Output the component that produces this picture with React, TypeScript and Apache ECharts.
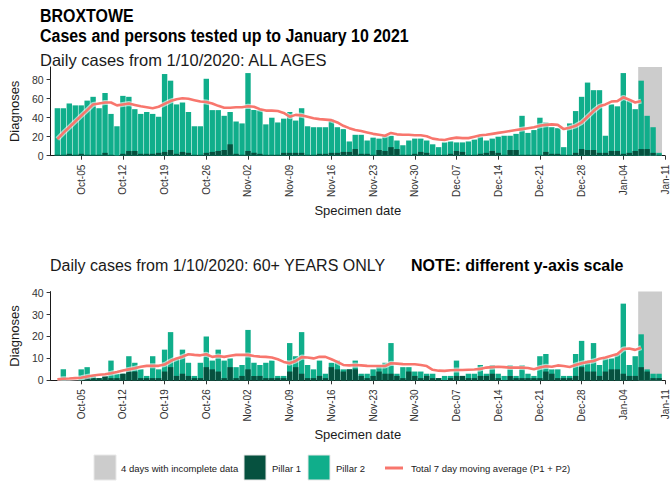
import React, { useEffect, useRef } from "react";
import * as echarts from "echarts";

// ---------- data ----------
const tickLabels = [
  "Oct-05", "Oct-12", "Oct-19", "Oct-26", "Nov-02", "Nov-09", "Nov-16", "Nov-23",
  "Nov-30", "Dec-07", "Dec-14", "Dec-21", "Dec-28", "Jan-04", "Jan-11",
];
const topYTicks = [0, 20, 40, 60, 80];
const bottomYTicks = [0, 10, 20, 30, 40];

// All ages: daily totals (Pillar 1 + Pillar 2) from 1 Oct 2020 to 10 Jan 2021
const allAgesTotal = [
  50, 50, 55, 53, 53, 58, 62, 50, 66, 44,
  31, 63, 62, 49, 44, 46, 44, 41, 86, 79,
  54, 56, 46, 31, 31, 81, 48, 48, 42, 46,
  36, 34, 87, 48, 48, 33, 40, 35, 39, 46,
  37, 50, 31, 30, 30, 30, 38, 30, 28, 15,
  22, 22, 16, 19, 18, 21, 21, 16, 11, 16,
  18, 18, 16, 12, 9, 14, 15, 14, 14, 15,
  17, 20, 16, 18, 20, 21, 21, 23, 42, 24,
  27, 40, 35, 30, 29, 9, 34, 47, 62, 77,
  69, 69, 21, 54, 52, 87, 58, 49, 79, 42,
  30, 3,
];
const allAgesPillar1 = [
  1, 1, 2, 1, 2, 1, 1, 1, 3, 1,
  0, 2, 5, 5, 2, 2, 2, 3, 4, 6,
  2, 4, 3, 1, 1, 3, 4, 5, 6, 12,
  2, 1, 5, 3, 2, 1, 1, 1, 3, 3,
  3, 3, 1, 1, 2, 2, 3, 3, 4, 4,
  7, 2, 2, 1, 6, 5, 9, 7, 1, 1,
  2, 4, 3, 1, 1, 1, 2, 5, 4, 1,
  1, 2, 3, 5, 3, 1, 6, 6, 1, 1,
  1, 1, 4, 2, 2, 1, 1, 3, 7, 6,
  6, 3, 3, 5, 5, 2, 3, 5, 7, 7,
  3, 1,
];
const allAgesAverage = [
  17.5, 24, 30, 36, 42, 48, 54, 55, 56, 56,
  53, 54, 55, 53.5, 52, 51, 50, 51.5, 54.5, 57.5,
  59.5, 60.5, 60, 58.5, 57, 56.5, 55, 52.5, 50.5, 50.5,
  51, 51, 52, 51.5, 49, 47.5, 47.5, 47, 45, 41,
  43, 42.5, 41, 39.5, 38.5, 38, 37.5, 35, 31.5, 29,
  27, 26, 24.5, 23, 22, 21, 24, 22.5, 22, 22,
  21.5, 21.5, 20.5, 18, 17, 16.5, 18, 19, 18.5, 18.5,
  20, 21.5, 22, 23, 24, 25, 26, 27, 28, 29,
  30, 31.5, 32.5, 33, 32.5, 28, 29.5, 31.5, 35, 41,
  47, 52, 54, 57, 57.5, 61.5, 59, 56, 57.5,
];

// 60+ years only
const over60Total = [
  0, 5, 0, 0, 5, 6, 2, 1, 2, 9,
  3, 3, 11, 8, 5, 2, 11, 5, 14, 22,
  10, 14, 8, 2, 8, 20, 9, 14, 9, 10,
  6, 7, 23, 8, 7, 8, 9, 2, 2, 17,
  11, 22, 7, 5, 9, 3, 8, 9, 5, 5,
  9, 3, 3, 5, 7, 8, 17, 3, 6, 6,
  4, 4, 3, 3, 1, 2, 2, 9, 2, 3,
  3, 7, 3, 7, 3, 2, 7, 2, 7, 3,
  2, 11, 12, 5, 5, 2, 2, 12, 18, 9,
  17, 7, 10, 10, 12, 35, 7, 11, 21, 5,
  3, 3,
];
const over60Pillar1 = [
  0, 0, 0, 0, 0, 1, 1, 1, 2, 1,
  1, 3, 4, 4, 1, 1, 1, 1, 4, 6,
  2, 3, 2, 1, 1, 6, 5, 4, 1, 6,
  1, 2, 5, 2, 2, 1, 1, 1, 1, 4,
  6, 3, 1, 1, 2, 1, 6, 5, 4, 5,
  5, 2, 1, 2, 4, 3, 3, 2, 1, 4,
  2, 1, 2, 1, 1, 0, 1, 2, 2, 1,
  1, 2, 2, 3, 1, 0, 2, 1, 1, 1,
  1, 1, 4, 3, 1, 1, 1, 2, 6, 4,
  4, 2, 4, 5, 5, 3, 2, 2, 6, 4,
  1, 1,
];
const over60Average = [
  0.5, 0.7, 0.8, 1, 1.2, 1.7, 2.2, 2.5, 2.8, 3.2,
  3.8, 4.5, 5, 5.5, 6.2, 6.6, 6.6, 6.6, 7.2, 8.8,
  10, 10.8, 11.9, 11.6, 11.4, 11.9, 10.7, 11.1, 10.7, 11.2,
  11.6, 11.6, 11.6, 11.1, 10.8, 10.7, 10.4, 9.6, 8.4, 7.8,
  8.8, 10.6, 10.4, 10, 10.7, 10.7, 9.6, 8.4, 7, 6.8,
  7, 6.8, 6.6, 6.5, 6.5, 6.5, 7.8, 7.6, 7.4, 7.3,
  7.3, 7, 6.5, 4.8, 4.4, 4.3, 4.6, 4.7, 4.7, 4.8,
  4.9, 5.2, 5.8, 6, 6.2, 6, 5.8, 5.8, 5.8, 5.6,
  5, 5.8, 6.4, 6.2, 6.8, 6.5, 6.1, 7, 7.8, 8.4,
  8.8, 9.8, 10.4, 11.2, 12, 14.3, 14.5, 13.9, 14.9,
];
const incompleteDays = 4;

// ---------- helpers ----------
const MONTHS: Record<string, number> = { Oct: 9, Nov: 10, Dec: 11, Jan: 0 };
const START = Date.UTC(2020, 9, 1);
function dayIndex(label: string): number {
  const [m, dd] = label.split("-");
  const y = m === "Jan" ? 2021 : 2020;
  return Math.round((Date.UTC(y, MONTHS[m], Number(dd)) - START) / 86400000);
}
const tickDays = tickLabels.map(dayIndex);
const lastDay = allAgesTotal.length - 1;

const FONT = "'Liberation Sans', Arial, Helvetica, sans-serif";
const P1 = "#06513F";
const P2 = "#10AE8B";
const RED = "#F8766D";
const GREY = "#CCCCCC";
const AXIS = "#1a1a1a";
const LABEL = "#333333";

const X_MIN = -1.14;
const X_MAX = 102.0;

function xAxis(gridIndex: number) {
  return {
    type: "value",
    gridIndex,
    min: X_MIN,
    max: X_MAX,
    axisLine: { show: true, onZero: false, lineStyle: { color: AXIS, width: 1 } },
    axisTick: { show: true, customValues: tickDays, length: 4, lineStyle: { color: "#333333" } },
    axisLabel: {
      customValues: tickDays,
      rotate: 90,
      margin: 9,
      fontSize: 10,
      fontFamily: FONT,
      color: LABEL,
      formatter: (v: number) => tickLabels[tickDays.indexOf(Math.round(v))] ?? "",
    },
    splitLine: { show: false },
    name: "Specimen date",
    nameLocation: "middle",
    nameGap: 48,
    nameTextStyle: { fontSize: 13, fontFamily: FONT, color: AXIS },
  };
}

function yAxis(gridIndex: number, max: number, ticks: number[]) {
  return {
    type: "value",
    gridIndex,
    min: 0,
    max,
    axisLine: { show: true, onZero: false, lineStyle: { color: AXIS, width: 1 } },
    axisTick: { show: true, customValues: ticks, length: 4, lineStyle: { color: "#333333" } },
    axisLabel: { customValues: ticks, margin: 7, fontSize: 10.5, fontFamily: FONT, color: LABEL },
    splitLine: { show: false },
    name: "Diagnoses",
    nameLocation: "middle",
    nameGap: 26,
    nameTextStyle: { fontSize: 13, fontFamily: FONT, color: AXIS },
  };
}

function panelSeries(idx: number, total: number[], pillar1: number[], avg: number[]) {
  const startGrey = lastDay - incompleteDays + 1 - 0.5;
  return [
    {
      type: "bar",
      name: "Pillar 2",
      xAxisIndex: idx,
      yAxisIndex: idx,
      data: total.map((v, i) => [i, v]),
      barWidth: 5.4,
      barGap: "-100%",
      itemStyle: { color: P2 },
      markArea: {
        silent: true,
        itemStyle: { color: GREY },
        data: [[{ xAxis: startGrey }, { xAxis: lastDay + 0.5 }]],
      },
    },
    {
      type: "bar",
      name: "Pillar 1",
      xAxisIndex: idx,
      yAxisIndex: idx,
      data: pillar1.map((v, i) => [i, v]),
      barWidth: 5.4,
      barGap: "-100%",
      itemStyle: { color: P1 },
    },
    {
      type: "line",
      name: "halo",
      xAxisIndex: idx,
      yAxisIndex: idx,
      data: avg.map((v, i) => [i, v]),
      symbol: "none",
      lineStyle: { color: "#ffffff", width: 5, opacity: 0.6 },
      z: 4,
    },
    {
      type: "line",
      name: "Total 7 day moving average (P1 + P2)",
      xAxisIndex: idx,
      yAxisIndex: idx,
      data: avg.map((v, i) => [i, v]),
      symbol: "none",
      lineStyle: { color: RED, width: 2.6 },
      z: 5,
    },
  ];
}

function legendGraphics() {
  const y = 468;
  const txt = (x: number, text: string) => ({
    type: "text",
    x,
    y,
    style: { text, fontSize: 9.5, fontFamily: FONT, fill: "#1a1a1a", align: "left", verticalAlign: "middle" },
  });
  const box = (x: number, color: string) => ({
    type: "rect",
    shape: { x, y: 455, width: 22, height: 25 },
    style: { fill: color, stroke: "#e8e8e8", lineWidth: 1 },
  });
  return [
    box(94, GREY),
    txt(121, "4 days with incomplete data"),
    box(244, P1),
    txt(272, "Pillar 1"),
    box(308, P2),
    txt(336, "Pillar 2"),
    { type: "line", shape: { x1: 385, y1: y, x2: 403, y2: y }, style: { stroke: RED, lineWidth: 3 } },
    txt(411, "Total 7 day moving average (P1 + P2)"),
  ];
}

const option = {
  animation: false,
  backgroundColor: "#ffffff",
  textStyle: { fontFamily: FONT },
  grid: [
    { left: 48, right: 0, top: 67, height: 88.7 },
    { left: 48, right: 0, top: 291.6, height: 88.7 },
  ],
  xAxis: [xAxis(0), xAxis(1)],
  yAxis: [yAxis(0, 93.4, topYTicks), yAxis(1, 40.5, bottomYTicks)],
  series: [
    ...panelSeries(0, allAgesTotal, allAgesPillar1, allAgesAverage),
    ...panelSeries(1, over60Total, over60Pillar1, over60Average),
  ],
  graphic: [
    {
      type: "text",
      x: 40,
      y: 16,
      scaleX: 0.84,
      style: { text: "BROXTOWE", fontSize: 19, fontWeight: "bold", fontFamily: FONT, fill: "#000", verticalAlign: "middle" },
    },
    {
      type: "text",
      x: 40,
      y: 36,
      scaleX: 0.84,
      style: {
        text: "Cases and persons tested up to January 10 2021",
        fontSize: 19,
        fontWeight: "bold",
        fontFamily: FONT,
        fill: "#000",
        verticalAlign: "middle",
      },
    },
    {
      type: "text",
      x: 40,
      y: 60,
      style: { text: "Daily cases from 1/10/2020: ALL AGES", fontSize: 16.5, fontFamily: FONT, fill: "#1a1a1a", verticalAlign: "middle" },
    },
    {
      type: "text",
      x: 50,
      y: 265,
      style: { text: "Daily cases from 1/10/2020: 60+ YEARS ONLY", fontSize: 16, fontFamily: FONT, fill: "#1a1a1a", verticalAlign: "middle" },
    },
    {
      type: "text",
      x: 411,
      y: 265,
      style: { text: "NOTE: different y-axis scale", fontSize: 16, fontWeight: "bold", fontFamily: FONT, fill: "#000", verticalAlign: "middle" },
    },
    ...legendGraphics(),
  ],
};

export default function App() {
  const ref = useRef<HTMLDivElement>(null);
  useEffect(() => {
    if (!ref.current) return;
    const chart = echarts.init(ref.current, null, { renderer: "svg" });
    chart.setOption(option as any);
    return () => chart.dispose();
  }, []);
  return (
    <div
      ref={ref}
      style={{ position: "absolute", left: 0, top: 0, width: 670, height: 483, background: "#fff" }}
    />
  );
}
